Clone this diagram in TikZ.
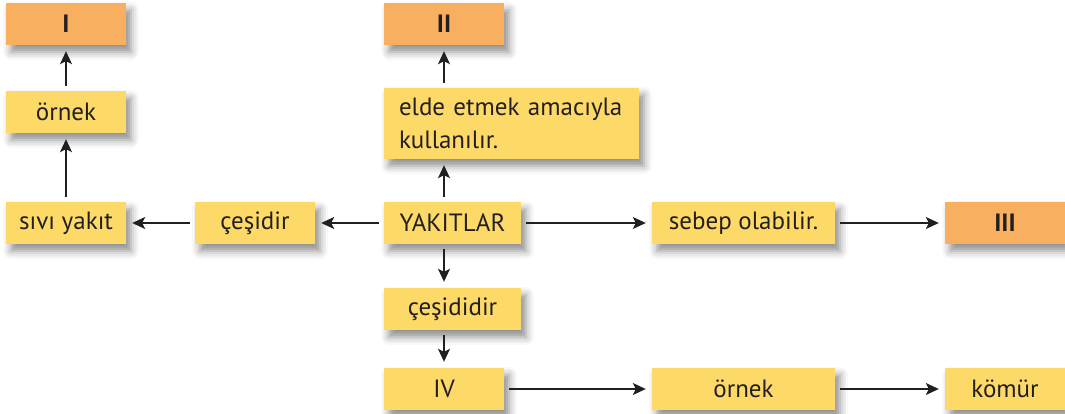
\documentclass[tikz,border=0pt]{standalone}
\usepackage{fontspec}
\setmainfont{PT Sans}
\usetikzlibrary{arrows.meta,shadows.blur,calc}
\definecolor{boxyellow}{RGB}{253,218,104}
\definecolor{boxorange}{RGB}{249,175,96}
\definecolor{ink}{RGB}{35,31,32}
\tikzset{
  ybox/.style={fill=boxyellow, draw=none, minimum height=42pt, inner sep=0pt,
    font=\fontsize{25}{33}\selectfont, text=ink,
    blur shadow={shadow xshift=5pt, shadow yshift=-7pt, shadow blur radius=8pt, shadow opacity=45}},
  obox/.style={ybox, fill=boxorange, font=\fontsize{25}{33}\selectfont\bfseries},
  conn/.style={-{Stealth[length=13pt,width=12pt,inset=3pt]}, line width=1.4pt, draw=ink,
    shorten >=6pt, shorten <=5pt}
}
\begin{document}
\begin{tikzpicture}[x=1pt,y=-1pt]
\useasboundingbox (0,0) rectangle (1065,414);
% nodes
\node[obox, minimum width=120pt] (I) at (66,24) {I};
\node[ybox, minimum width=120pt] (ornekL) at (66,112) {örnek};
\node[ybox, minimum width=120pt] (sivi) at (66,223) {sıvı yakıt};
\node[ybox, minimum width=120pt] (cesidir) at (255,223) {çeşidir};
\node[ybox, minimum width=137pt] (yak) at (452.5,223) {YAKITLAR};
\node[obox, minimum width=120pt] (II) at (444,24) {II};
\node[ybox, minimum width=255pt, minimum height=71pt, align=left, text width=225pt] (elde) at (511.5,123.5) {elde etmek amacıyla\\kullanılır.};
\node[ybox, minimum width=183pt] (sebep) at (743.5,223) {sebep olabilir.};
\node[obox, minimum width=120pt] (III) at (1005,223) {III};
\node[ybox, minimum width=137pt] (cesididir) at (452.5,309) {çeşididir};
\node[ybox, minimum width=120pt] (IV) at (444,389) {IV};
\node[ybox, minimum width=183pt] (ornekM) at (743.5,389) {örnek};
\node[ybox, minimum width=120pt] (komur) at (1005,389) {kömür};
% connectors
\draw[conn] (ornekL) -- (I);
\draw[conn] (sivi) -- (ornekL);
\draw[conn] (cesidir) -- (sivi);
\draw[conn] (yak) -- (cesidir);
\draw[conn] (yak.north -| II.south) -- (elde.south -| II.south);
\draw[conn] (elde.north -| II.south) -- (II.south);
\draw[conn] (yak) -- (sebep);
\draw[conn] (sebep) -- (III);
\draw[conn] (yak.south -| II.south) -- (cesididir.north -| II.south);
\draw[conn] (cesididir.south -| II.south) -- (IV.north);
\draw[conn] (IV) -- (ornekM);
\draw[conn] (ornekM) -- (komur);
\end{tikzpicture}
\end{document}
